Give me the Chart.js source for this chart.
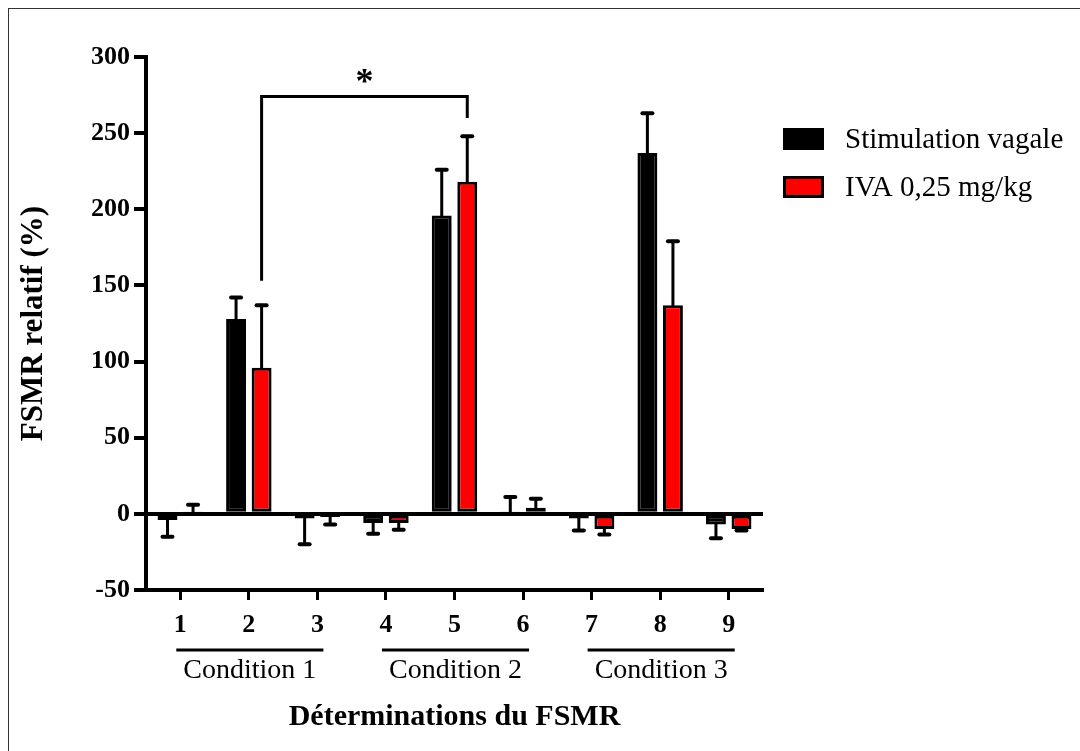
<!DOCTYPE html>
<html>
<head>
<meta charset="utf-8">
<script src="https://cdn.jsdelivr.net/npm/chart.js@4.4.1/dist/chart.umd.min.js"></script>
<style>
  html, body { margin: 0; padding: 0; background: #fff; }
  #wrap { width: 1080px; height: 751px; }
</style>
</head>
<body>
<div id="wrap"><canvas id="chart"></canvas></div>
<script>
// data
const categories = ['1', '2', '3', '4', '5', '6', '7', '8', '9'];
const seriesNames = ['Stimulation vagale', 'IVA 0,25 mg/kg'];
const vagalValues = [-4, 128, -3, -6, 196, 1, -3, 237, -7];
const vagalErrors = [11, 14, 17, 7, 30, 10, 8, 26, 9];
const ivaValues = [0.5, 96, -2, -6, 218, 4, -10, 137, -10];
const ivaErrors = [5.5, 41, 5, 4.5, 30, 6, 3.5, 42, 1];
const yTicks = [-50, 0, 50, 100, 150, 200, 250, 300];
const conditionLabels = ['Condition 1', 'Condition 2', 'Condition 3'];
const conditionSpans = [[0, 2], [3, 5], [6, 8]];
const bracketBars = [1, 4];          // IVA bars being compared
const bracketLevels = [153, 274, 260]; // left foot, top, right foot
const bracketMark = '*';

const serif = "'Liberation Serif', 'Times New Roman', serif";

// error bars go away from zero only
const errorBars = {
    id: 'errorBars',
    afterDatasetsDraw(chart) {
        const ctx = chart.ctx;
        const yScale = chart.scales.y;
        chart.data.datasets.forEach((ds, i) => {
            const meta = chart.getDatasetMeta(i);
            meta.data.forEach((bar, j) => {
                const v = ds.data[j];
                const e = ds.errors[j];
                const end = v >= 0 ? v + e : v - e;
                const y0 = yScale.getPixelForValue(v);
                const y1 = yScale.getPixelForValue(end);
                ctx.save();
                ctx.strokeStyle = '#000';
                ctx.lineCap = 'round';
                ctx.lineWidth = 3;
                ctx.beginPath();
                ctx.moveTo(bar.x, y0);
                ctx.lineTo(bar.x, y1);
                ctx.stroke();
                ctx.lineWidth = 4;
                ctx.beginPath();
                ctx.moveTo(bar.x - 5, y1);
                ctx.lineTo(bar.x + 5, y1);
                ctx.stroke();
                ctx.restore();
            });
        });
    }
};

const extras = {
    id: 'extras',
    afterDraw(chart) {
        const ctx = chart.ctx;
        const xScale = chart.scales.x;
        const yScale = chart.scales.y;
        const area = chart.chartArea;
        ctx.save();

        // outer frame (only top and left are inside the picture)
        ctx.strokeStyle = '#333';
        ctx.lineWidth = 1;
        ctx.strokeRect(8.5, 8.5, 1200, 900);

        // condition groups under the axis
        ctx.strokeStyle = '#000';
        ctx.fillStyle = '#000';
        ctx.lineWidth = 3;
        ctx.font = '28px ' + serif;
        ctx.textAlign = 'center';
        ctx.textBaseline = 'middle';
        conditionSpans.forEach((span, k) => {
            const x1 = xScale.getPixelForValue(span[0]) - 4;
            const x2 = xScale.getPixelForValue(span[1]) + 6;
            const y = area.bottom + 60;
            ctx.beginPath();
            ctx.moveTo(x1, y);
            ctx.lineTo(x2, y);
            ctx.stroke();
            ctx.fillText(conditionLabels[k], (x1 + x2) / 2, area.bottom + 81);
        });

        // significance bracket
        const meta = chart.getDatasetMeta(1);
        const bx1 = meta.data[bracketBars[0]].x;
        const bx2 = meta.data[bracketBars[1]].x;
        const yTop = yScale.getPixelForValue(bracketLevels[1]);
        ctx.lineWidth = 3;
        ctx.beginPath();
        ctx.moveTo(bx1, yScale.getPixelForValue(bracketLevels[0]));
        ctx.lineTo(bx1, yTop);
        ctx.lineTo(bx2, yTop);
        ctx.lineTo(bx2, yScale.getPixelForValue(bracketLevels[2]));
        ctx.stroke();
        ctx.font = 'bold 36px ' + serif;
        ctx.fillText(bracketMark, (bx1 + bx2) / 2, yTop - 13);

        // legend
        ctx.textAlign = 'left';
        ctx.font = '29px ' + serif;
        chart.data.datasets.forEach((ds, i) => {
            const top = 128 + i * 48;
            ctx.fillStyle = '#000';
            ctx.fillRect(783, top, 41, 22);
            ctx.fillStyle = ds.backgroundColor;
            ctx.fillRect(786, top + 3, 35, 16);
            ctx.fillStyle = '#000';
            ctx.fillText(ds.label, 845, top + 12);
        });
        ctx.restore();
    }
};

const ctx = document.getElementById('chart').getContext('2d');
new Chart(ctx, {
    type: 'bar',
    data: {
        labels: categories,
        datasets: [
            {
                label: seriesNames[0],
                data: vagalValues,
                errors: vagalErrors,
                backgroundColor: '#000000',
                borderColor: '#000000',
                borderWidth: 3,
                borderSkipped: false
            },
            {
                label: seriesNames[1],
                data: ivaValues,
                errors: ivaErrors,
                backgroundColor: '#ff0000',
                borderColor: '#000000',
                borderWidth: 3,
                borderSkipped: false
            }
        ]
    },
    options: {
        responsive: true,
        maintainAspectRatio: false,
        animation: false,
        categoryPercentage: 0.745,
        barPercentage: 0.78,
        layout: { padding: { left: 15, top: 57, right: 317, bottom: 16 } },
        plugins: {
            legend: { display: false },
            tooltip: { enabled: false }
        },
        scales: {
            x: {
                afterFit: scale => { scale.height = 145; },
                grid: {
                    offset: false,
                    drawOnChartArea: false,
                    tickLength: 10,
                    tickWidth: 3,
                    tickColor: '#000'
                },
                border: { display: true, width: 4, color: '#000' },
                ticks: {
                    color: '#000',
                    padding: 10,
                    font: { family: serif, size: 26, weight: 'bold' }
                },
                title: {
                    display: true,
                    text: 'Déterminations du FSMR',
                    color: '#000',
                    padding: 0,
                    font: { family: serif, size: 30, weight: 'bold' }
                }
            },
            y: {
                min: -50,
                max: 300,
                afterFit: scale => { scale.width = 131; },
                afterBuildTicks: scale => { scale.ticks = yTicks.map(v => ({ value: v })); },
                grid: {
                    color: c => (c.tick && c.tick.value === 0 ? '#000' : 'rgba(0,0,0,0)'),
                    lineWidth: 4,
                    tickLength: 12,
                    tickWidth: 4,
                    tickColor: '#000'
                },
                border: { display: true, width: 4, color: '#000' },
                ticks: {
                    color: '#000',
                    padding: 4,
                    font: { family: serif, size: 26, weight: 'bold' }
                },
                title: {
                    display: true,
                    text: 'FSMR relatif (%)',
                    color: '#000',
                    padding: 0,
                    font: { family: serif, size: 31, weight: 'bold' }
                }
            }
        }
    },
    plugins: [errorBars, extras]
});
</script>
</body>
</html>
